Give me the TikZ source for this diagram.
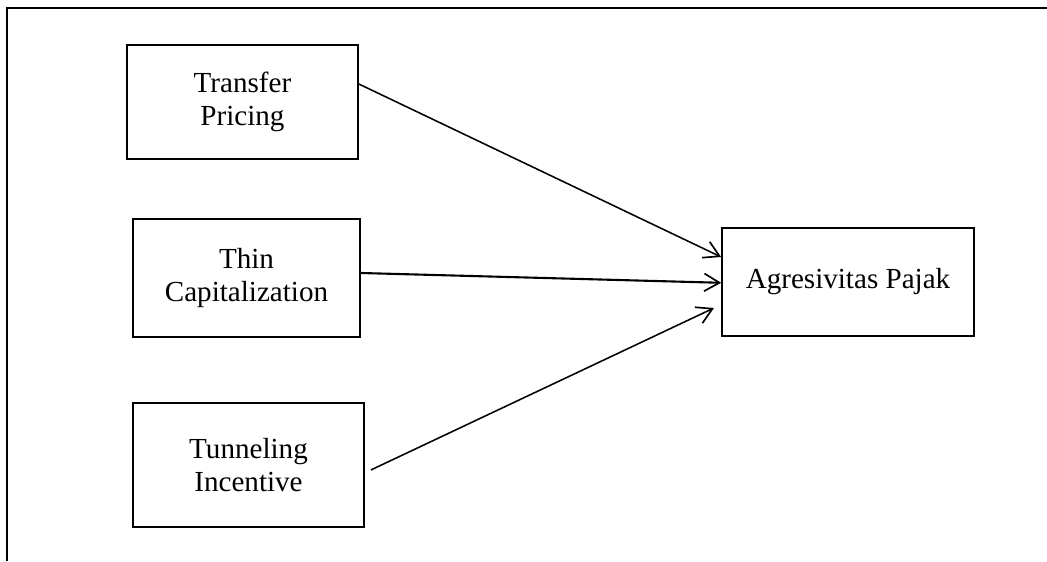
\documentclass[tikz,border=0pt]{standalone}
\usepackage{fontspec}
\setmainfont{Liberation Serif}
\usepackage{tikz}
\usetikzlibrary{positioning,arrows.meta}

\begin{document}
\begin{tikzpicture}[
  var/.style={draw, line width=1.2pt, align=center, inner sep=2pt,
              font=\fontsize{20.7}{23.5}\selectfont},
  arr/.style={-{Straight Barb[length=3.8mm, width=4.4mm, line width=1.2pt]}, line width=1.1pt},
  frame/.style={line width=1.5pt},
]
\useasboundingbox (0,0) rectangle (26.175,14.025);
% open frame: left side and top only
\coordinate (fb) at (0.175,0);
\coordinate (fc) at (0.175,13.825);
\coordinate (fr) at (26.175,13.825);
\draw[frame] (fb) -- (fc) -- (fr);

% independent variables
\node[var, minimum width=5.775cm, minimum height=2.85cm] (tp) at (6.0625,11.475) {Transfer\\Pricing};
\node[var, minimum width=5.675cm, minimum height=2.95cm] (tc) at (6.1625,7.075) {Thin\\Capitalization};
\node[var, minimum width=5.775cm, minimum height=3.1cm] (ti) at (6.2125,2.4) {Tunneling\\Incentive};

% dependent variable
\node[var, minimum width=6.3cm, minimum height=2.7cm] (ap) at (21.2,6.975) {Agresivitas Pajak};

% paths
\draw[arr] ([yshift=0.45cm]tp.east) -- ([yshift=0.625cm]ap.west);
\draw[arr, line width=1.5pt] ([yshift=0.125cm]tc.east) -- ([yshift=-0.02cm]ap.west);
\draw[arr] ([xshift=0.15cm, yshift=-0.125cm]ti.east) -- ([xshift=-0.18cm, yshift=-0.65cm]ap.west);
\end{tikzpicture}
\end{document}
